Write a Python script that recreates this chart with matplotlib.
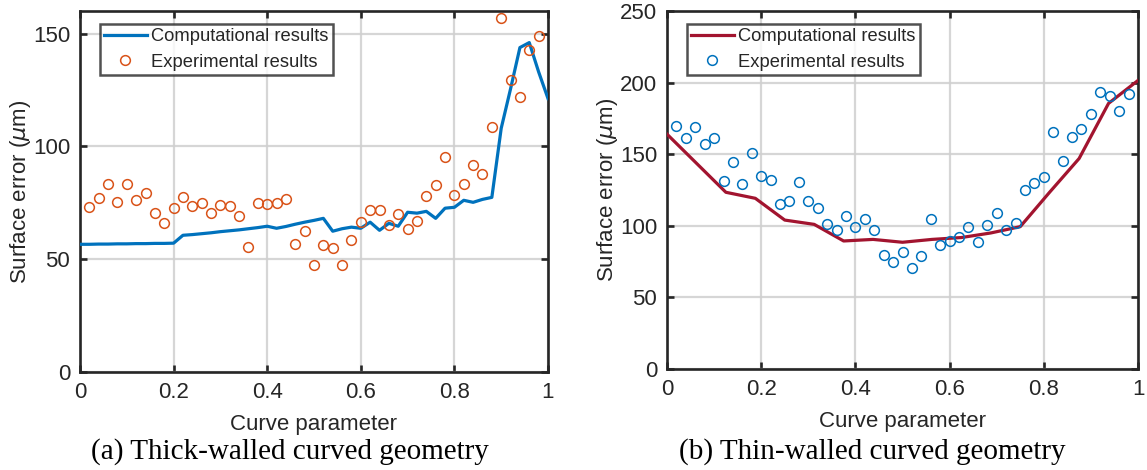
import numpy as np
import matplotlib
matplotlib.use("Agg")
import matplotlib.pyplot as plt

# ---- data ----
exp_x = [round(0.02 * i, 2) for i in range(1, 50)]

thick_exp = [73.0, 77.0, 83.2, 75.2, 83.2, 76.1, 79.2, 70.4, 65.9, 72.6,
             77.4, 73.5, 74.8, 70.4, 73.9, 73.5, 69.0, 55.3, 74.8, 74.3,
             74.8, 76.5, 56.6, 62.4, 47.3, 56.2, 54.9, 47.3, 58.4, 66.4,
             71.7, 71.7, 65.0, 69.9, 63.3, 66.8, 77.9, 82.7, 95.1, 78.3,
             83.2, 91.6, 87.6, 108.8, 157.1, 129.6, 121.7, 142.5, 148.7]

thick_comp_x = [round(0.02 * i, 2) for i in range(0, 51)]
thick_comp = [56.6, 56.6, 56.7, 56.7, 56.8, 56.8, 56.9, 56.9, 57.0, 57.0,
              57.1, 60.6, 60.9, 61.3, 61.7, 62.2, 62.6, 63.0, 63.5, 64.0,
              64.6, 63.7, 64.5, 65.5, 66.4, 67.2, 68.1, 62.4, 63.5, 64.2,
              63.7, 66.4, 62.8, 65.9, 64.6, 70.8, 70.4, 71.2, 68.1, 72.6,
              73.0, 76.1, 75.2, 76.5, 77.4, 108.0, 125.5, 143.8, 146.0, 133.0,
              121.2]

thin_exp = [169.9, 161.5, 169.0, 157.1, 161.5, 131.3, 144.8, 129.0, 151.0, 135.0,
            132.0, 115.0, 117.1, 130.4, 117.1, 112.2, 101.0, 97.1, 106.8, 98.9,
            105.0, 97.3, 79.6, 74.7, 81.7, 70.7, 78.9, 105.0, 86.8, 89.6,
            92.4, 98.9, 88.7, 100.8, 108.9, 96.9, 101.7, 125.0, 130.1, 134.3,
            165.3, 145.0, 162.2, 167.6, 178.0, 193.4, 190.6, 180.2, 192.3]

thin_comp_x = [i / 16 for i in range(0, 17)]
thin_comp = [164.0, 143.7, 123.4, 119.2, 104.0, 101.0, 89.4, 90.5, 88.5,
             90.5, 91.8, 95.0, 99.4, 123.5, 147.0, 185.5, 201.5]

captions = ["(a) Thick-walled curved geometry", "(b) Thin-walled curved geometry"]

# ---- style ----
plt.rcParams['font.family'] = ['Liberation Sans', 'DejaVu Sans']
plt.rcParams['mathtext.fontset'] = 'dejavusans'
TXT = '#262626'

W, H = 1147, 470
fig = plt.figure(figsize=(W / 100, H / 100), dpi=100)

def px_axes(x0, y0, x1, y1):
    return fig.add_axes([x0 / W, 1 - y1 / H, (x1 - x0) / W, (y1 - y0) / H])

ax1 = px_axes(80, 11, 548, 372)
ax2 = px_axes(667, 11, 1138, 369)

def style(ax, ylim, yticks):
    ax.set_xlim(0, 1)
    ax.set_ylim(*ylim)
    ax.set_xticks([0, 0.2, 0.4, 0.6, 0.8, 1])
    ax.set_xticklabels(['0', '0.2', '0.4', '0.6', '0.8', '1'])
    ax.set_yticks(yticks)
    ax.grid(True, color='#cfcfcf', linewidth=1.6, alpha=0.85)
    ax.set_axisbelow(True)
    for s in ax.spines.values():
        s.set_linewidth(1.9)
        s.set_color(TXT)
    ax.tick_params(direction='in', length=5, width=1.9, top=True, right=True,
                   labelsize=16, colors=TXT, pad=7)
    ax.set_xlabel('Curve parameter', fontsize=16, color=TXT, labelpad=8)
    ax.set_ylabel(r'Surface error ($\mu$m)', fontsize=16, color=TXT, labelpad=0)

ax1.plot(thick_comp_x, thick_comp, color='#0072BD', linewidth=2.3,
         label='Computational results', zorder=3)
ax1.plot(exp_x, thick_exp, linestyle='none', marker='o', markersize=7,
         markerfacecolor='none', markeredgecolor='#D95319', markeredgewidth=1.1,
         label='Experimental results', zorder=4)
style(ax1, (0, 160), [0, 50, 100, 150])

ax2.plot(thin_comp_x, thin_comp, color='#A2142F', linewidth=2.3,
         label='Computational results', zorder=3)
ax2.plot(exp_x, thin_exp, linestyle='none', marker='o', markersize=7,
         markerfacecolor='none', markeredgecolor='#0072BD', markeredgewidth=1.1,
         label='Experimental results', zorder=4)
style(ax2, (0, 250), [0, 50, 100, 150, 200, 250])

for ax in (ax1, ax2):
    leg = ax.legend(loc='upper left', bbox_to_anchor=(0.042, 0.963), fontsize=13.2,
                    frameon=True, fancybox=False, borderpad=0.22, labelspacing=0.45,
                    handlelength=2.35, handletextpad=0.25, borderaxespad=0)
    leg.get_frame().set_edgecolor(TXT)
    leg.get_frame().set_linewidth(1.8)
    for t in leg.get_texts():
        t.set_color(TXT)

fig.text(290 / W, 1 - 452 / H, captions[0], ha='center', va='center',
         fontsize=21, family='Liberation Serif', color='black')
fig.text(872 / W, 1 - 452 / H, captions[1], ha='center', va='center',
         fontsize=21, family='Liberation Serif', color='black')

fig.savefig('out.png', dpi=100)
